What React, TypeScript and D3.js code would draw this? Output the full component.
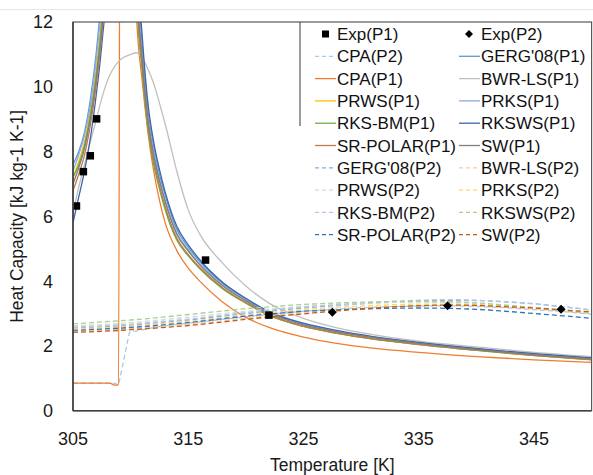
import React from 'react';
import * as d3 from 'd3';

const W = 593;
const H = 475;
const X_DOMAIN: [number, number] = [305, 350];
const Y_DOMAIN: [number, number] = [0, 12];
const X_TICKS = [305, 315, 325, 335, 345];
const Y_TICKS = [0, 2, 4, 6, 8, 10, 12];

// Experimental data
const EXP_P1_T = [305.3, 305.9, 306.5, 307.05, 316.5, 322.0];
const EXP_P1_CP = [6.32, 7.38, 7.87, 9.01, 4.65, 2.95];
const EXP_P2_T = [327.5, 337.5, 347.35];
const EXP_P2_CP = [3.04, 3.24, 3.13];

// P1 model curves (common temperature grid)
const T_P1 = [305, 305.5, 306, 306.5, 307, 307.5, 308, 309, 310, 310.5, 311, 311.5, 312, 312.5, 313, 314, 315, 316, 318, 320, 322, 325, 328, 331, 335, 340, 345, 350];
const GERG_P1 = [7.6, 8.0, 8.6, 9.6, 11.0, 13.0, 16, 25, 25, 14.2, 11.3, 9.3, 8.15, 7.3, 6.65, 5.6, 5.05, 4.6, 3.92, 3.44, 3.04, 2.68, 2.45, 2.28, 2.1, 1.91, 1.75, 1.62];
const BWRLS_P1 = [6.1, 6.9, 7.6, 8.3, 8.95, 9.65, 10.2, 10.8, 11.0, 11.05, 10.9, 10.55, 10.1, 9.5, 8.85, 7.4, 6.2, 5.45, 4.55, 3.85, 3.32, 2.85, 2.55, 2.35, 2.15, 1.97, 1.8, 1.67];
const PRWS_P1 = [7.2, 7.7, 8.3, 9.2, 10.5, 12.2, 15, 25, 25, 13.2, 10.6, 8.8, 7.7, 6.9, 6.25, 5.3, 4.8, 4.4, 3.77, 3.33, 2.95, 2.6, 2.39, 2.22, 2.05, 1.87, 1.71, 1.58];
const PRKS_P1 = [7.4, 7.9, 8.5, 9.4, 10.8, 12.6, 15, 25, 25, 13.8, 11.0, 9.1, 8.0, 7.15, 6.5, 5.5, 4.97, 4.53, 3.88, 3.41, 3.02, 2.66, 2.44, 2.27, 2.09, 1.9, 1.74, 1.61];
const RKSBM_P1 = [7.2, 7.6, 8.2, 9.1, 10.3, 12.0, 14.5, 25, 25, 13.0, 10.5, 8.7, 7.6, 6.85, 6.2, 5.27, 4.78, 4.38, 3.76, 3.32, 2.94, 2.6, 2.38, 2.21, 2.04, 1.86, 1.7, 1.57];
const RKSWS_P1 = [5.8, 6.6, 7.4, 8.4, 9.7, 11.3, 13.5, 25, 25, 14.5, 11.6, 9.5, 8.3, 7.45, 6.75, 5.7, 5.12, 4.66, 3.96, 3.47, 3.06, 2.7, 2.47, 2.29, 2.11, 1.92, 1.76, 1.63];
const SRPOLAR_P1 = [6.8, 7.3, 7.9, 8.8, 10.0, 11.6, 14, 25, 25, 13.3, 10.7, 8.85, 7.75, 6.95, 6.3, 5.33, 4.82, 4.42, 3.79, 3.34, 2.96, 2.61, 2.39, 2.22, 2.05, 1.87, 1.71, 1.58];
const SW_P1 = [7.0, 7.5, 8.1, 9.0, 10.2, 11.8, 14.2, 25, 25, 13.6, 10.9, 9.0, 7.9, 7.1, 6.45, 5.45, 4.93, 4.5, 3.85, 3.39, 3.0, 2.65, 2.43, 2.26, 2.08, 1.89, 1.73, 1.6];

// CPA(P1) has its own grid (jump near 309 K)
const T_CPA_P1 = [305, 306, 307, 308, 308.2, 308.6, 308.95, 309.15, 310, 310.5, 311, 311.5, 312, 312.5, 313, 314, 315, 316, 318, 320, 322, 325, 328, 331, 335, 340, 345, 350];
const CPA_P1 = [0.85, 0.85, 0.85, 0.85, 0.85, 0.79, 0.8, 30, 20, 12.3, 10.2, 8.6, 7.4, 6.5, 5.8, 4.95, 4.4, 4.0, 3.35, 2.88, 2.57, 2.27, 2.07, 1.93, 1.8, 1.67, 1.57, 1.49];

// P2 model curves (common temperature grid)
const T_P2 = [305, 307.5, 310, 312.5, 315, 317.5, 320, 322.5, 325, 327.5, 330, 332.5, 335, 337.5, 340, 342.5, 345, 347.5, 350];
const GERG_P2 = [2.55, 2.59, 2.64, 2.72, 2.8, 2.9, 3.0, 3.09, 3.17, 3.24, 3.3, 3.35, 3.39, 3.41, 3.4, 3.36, 3.3, 3.21, 3.11];
const BWRLS_P2 = [2.45, 2.48, 2.53, 2.6, 2.67, 2.76, 2.86, 2.95, 3.03, 3.1, 3.16, 3.21, 3.24, 3.25, 3.23, 3.19, 3.14, 3.07, 3.0];
const PRWS_P2 = [2.62, 2.66, 2.72, 2.8, 2.89, 2.98, 3.07, 3.15, 3.22, 3.27, 3.31, 3.34, 3.35, 3.34, 3.31, 3.26, 3.19, 3.11, 3.03];
const PRKS_P2 = [2.52, 2.56, 2.61, 2.68, 2.76, 2.85, 2.95, 3.04, 3.12, 3.18, 3.23, 3.27, 3.29, 3.29, 3.27, 3.23, 3.17, 3.1, 3.02];
const RKSBM_P2 = [2.58, 2.62, 2.67, 2.75, 2.83, 2.93, 3.03, 3.12, 3.2, 3.26, 3.32, 3.37, 3.41, 3.43, 3.41, 3.37, 3.3, 3.21, 3.11];
const RKSWS_P2 = [2.68, 2.74, 2.8, 2.88, 2.97, 3.06, 3.15, 3.22, 3.28, 3.32, 3.35, 3.37, 3.38, 3.37, 3.33, 3.26, 3.18, 3.09, 3.0];
const SRPOLAR_P2 = [2.48, 2.52, 2.57, 2.64, 2.72, 2.82, 2.92, 3.0, 3.07, 3.11, 3.14, 3.16, 3.17, 3.16, 3.13, 3.07, 3.0, 2.93, 2.85];
const SW_P2 = [2.42, 2.45, 2.5, 2.56, 2.63, 2.72, 2.82, 2.91, 2.99, 3.07, 3.14, 3.2, 3.24, 3.26, 3.25, 3.21, 3.17, 3.11, 3.05];

const T_CPA_P2 = [305, 308.6, 308.95, 309.9, 312.5, 315, 317.5, 320, 322.5, 325, 327.5, 330, 332.5, 335, 337.5, 340, 342.5, 345, 347.5, 350];
const CPA_P2 = [0.85, 0.85, 0.79, 2.42, 2.6, 2.7, 2.8, 2.9, 2.99, 3.07, 3.13, 3.18, 3.21, 3.23, 3.24, 3.22, 3.18, 3.12, 3.06, 2.98];

type Series = { name: string; t: number[]; v: number[]; color: string; dashed: boolean; curve: any };

const SERIES: Series[] = [
  { name: 'CPA(P2)', t: T_CPA_P2, v: CPA_P2, color: '#A9C9EA', dashed: true, curve: d3.curveLinear },
  { name: "GERG'08(P1)", t: T_P1, v: GERG_P1, color: '#5B9BD5', dashed: false, curve: d3.curveMonotoneX },
  { name: 'CPA(P1)', t: T_CPA_P1, v: CPA_P1, color: '#ED7D31', dashed: false, curve: d3.curveMonotoneX },
  { name: 'BWR-LS(P1)', t: T_P1, v: BWRLS_P1, color: '#BFBFBF', dashed: false, curve: d3.curveMonotoneX },
  { name: 'PRWS(P1)', t: T_P1, v: PRWS_P1, color: '#FFC000', dashed: false, curve: d3.curveMonotoneX },
  { name: 'PRKS(P1)', t: T_P1, v: PRKS_P1, color: '#8FAADC', dashed: false, curve: d3.curveMonotoneX },
  { name: 'RKS-BM(P1)', t: T_P1, v: RKSBM_P1, color: '#70AD47', dashed: false, curve: d3.curveMonotoneX },
  { name: 'RKSWS(P1)', t: T_P1, v: RKSWS_P1, color: '#3F64AA', dashed: false, curve: d3.curveMonotoneX },
  { name: 'SR-POLAR(P1)', t: T_P1, v: SRPOLAR_P1, color: '#BF7A48', dashed: false, curve: d3.curveMonotoneX },
  { name: 'SW(P1)', t: T_P1, v: SW_P1, color: '#7F7F7F', dashed: false, curve: d3.curveMonotoneX },
  { name: "GERG'08(P2)", t: T_P2, v: GERG_P2, color: '#8FAADC', dashed: true, curve: d3.curveMonotoneX },
  { name: 'BWR-LS(P2)', t: T_P2, v: BWRLS_P2, color: '#F8CBAD', dashed: true, curve: d3.curveMonotoneX },
  { name: 'PRWS(P2)', t: T_P2, v: PRWS_P2, color: '#D9D9D9', dashed: true, curve: d3.curveMonotoneX },
  { name: 'PRKS(P2)', t: T_P2, v: PRKS_P2, color: '#FFD966', dashed: true, curve: d3.curveMonotoneX },
  { name: 'RKS-BM(P2)', t: T_P2, v: RKSBM_P2, color: '#B4C7E7', dashed: true, curve: d3.curveMonotoneX },
  { name: 'RKSWS(P2)', t: T_P2, v: RKSWS_P2, color: '#A9D18E', dashed: true, curve: d3.curveMonotoneX },
  { name: 'SR-POLAR(P2)', t: T_P2, v: SRPOLAR_P2, color: '#2E75B6', dashed: true, curve: d3.curveMonotoneX },
  { name: 'SW(P2)', t: T_P2, v: SW_P2, color: '#C55A11', dashed: true, curve: d3.curveMonotoneX },
];

const LEGEND_COL1 = ['Exp(P1)', 'CPA(P2)', 'CPA(P1)', 'PRWS(P1)', 'RKS-BM(P1)', 'SR-POLAR(P1)', "GERG'08(P2)", 'PRWS(P2)', 'RKS-BM(P2)', 'SR-POLAR(P2)'];
const LEGEND_COL2 = ['Exp(P2)', "GERG'08(P1)", 'BWR-LS(P1)', 'PRKS(P1)', 'RKSWS(P1)', 'SW(P1)', 'BWR-LS(P2)', 'PRKS(P2)', 'RKSWS(P2)', 'SW(P2)'];

const FONT = "'Liberation Sans', Arial, sans-serif";

export default function App() {
  const left = 73, right = 591.6, top = 22, bottom = 410.7;
  const x = d3.scaleLinear().domain(X_DOMAIN).range([left, right]);
  const y = d3.scaleLinear().domain(Y_DOMAIN).range([bottom, top]);

  const seriesByName: Record<string, Series> = {};
  SERIES.forEach((s) => (seriesByName[s.name] = s));

  const legendX1 = 315, legendX2 = 459, legendY0 = 34, legendDy = 22.3;

  const legendItem = (name: string, lx: number, ly: number) => {
    const items: React.ReactNode[] = [];
    if (name === 'Exp(P1)') {
      items.push(<rect key="m" x={lx + 7} y={ly - 3.5} width={7} height={7} fill="#000" />);
    } else if (name === 'Exp(P2)') {
      items.push(<path key="m" d={`M${lx + 10},${ly - 4}L${lx + 14},${ly}L${lx + 10},${ly + 4}L${lx + 6},${ly}Z`} fill="#000" />);
    } else {
      const s = seriesByName[name];
      items.push(
        <line key="l" x1={lx} x2={lx + 21} y1={ly} y2={ly} stroke={s.color} strokeWidth={1.3} strokeDasharray={s.dashed ? '4,3' : undefined} />
      );
    }
    items.push(
      <text key="t" x={lx + 22} y={ly} dy="0.36em" fontSize={17} fill="#111" fontFamily={FONT}>{name}</text>
    );
    return <g key={name + lx}>{items}</g>;
  };

  return (
    <svg width={W} height={H} style={{ position: 'absolute', left: 0, top: 0, background: '#fff' }}>
      <defs>
        <clipPath id="plotclip">
          <rect x={left} y={top} width={right - left} height={bottom - top} />
        </clipPath>
      </defs>
      <line x1={0} x2={W} y1={9.5} y2={9.5} stroke="#E6E6E6" strokeWidth={1} />

      <g clipPath="url(#plotclip)">
        {SERIES.map((s) => {
          const pts: [number, number][] = s.t.map((t, i) => [t, s.v[i]]);
          const gen = d3.line<[number, number]>().x((d) => x(d[0])).y((d) => y(d[1])).curve(s.curve);
          return (
            <path key={s.name} d={gen(pts) || ''} fill="none" stroke={s.color} strokeWidth={1.3}
              strokeDasharray={s.dashed ? '5,3' : undefined} />
          );
        })}
        {EXP_P1_T.map((t, i) => (
          <rect key={'e1' + i} x={x(t) - 3.75} y={y(EXP_P1_CP[i]) - 3.75} width={7.5} height={7.5} fill="#000" />
        ))}
        {EXP_P2_T.map((t, i) => {
          const cx = x(t), cy = y(EXP_P2_CP[i]);
          return <path key={'e2' + i} d={`M${cx},${cy - 4.5}L${cx + 4.5},${cy}L${cx},${cy + 4.5}L${cx - 4.5},${cy}Z`} fill="#000" />;
        })}
      </g>

      {/* legend background */}
      <rect x={300} y={top} width={right - 300} height={228} fill="#fff" stroke="none" />
      <line x1={300} x2={300} y1={top} y2={126} stroke="#595959" strokeWidth={1.2} />

      {/* plot frame */}
      <rect x={left} y={top} width={right - left} height={bottom - top} fill="none" stroke="#595959" strokeWidth={1.2} />
      <line x1={left} x2={left} y1={top} y2={bottom} stroke="#404040" strokeWidth={1.6} />
      <line x1={left} x2={right} y1={bottom} y2={bottom} stroke="#404040" strokeWidth={1.6} />

      {LEGEND_COL1.map((n, i) => legendItem(n, legendX1, legendY0 + i * legendDy))}
      {LEGEND_COL2.map((n, i) => legendItem(n, legendX2, legendY0 + i * legendDy))}

      {/* y ticks */}
      {Y_TICKS.map((v) => (
        <text key={'y' + v} x={53} y={y(v)} dy="0.36em" textAnchor="end" fontSize={18} fill="#1a1a1a" fontFamily={FONT}>{v}</text>
      ))}
      {/* x ticks */}
      {X_TICKS.map((v) => (
        <text key={'x' + v} x={x(v)} y={445} textAnchor="middle" fontSize={18} fill="#1a1a1a" fontFamily={FONT}>{v}</text>
      ))}
      <text x={(left + right) / 2} y={471} textAnchor="middle" fontSize={17.5} fill="#1a1a1a" fontFamily={FONT}>Temperature [K]</text>
      <text transform={`translate(23, ${(top + bottom) / 2}) rotate(-90)`} textAnchor="middle" fontSize={17.5} fill="#1a1a1a" fontFamily={FONT}>Heat Capacity [kJ kg-1 K-1]</text>
    </svg>
  );
}
